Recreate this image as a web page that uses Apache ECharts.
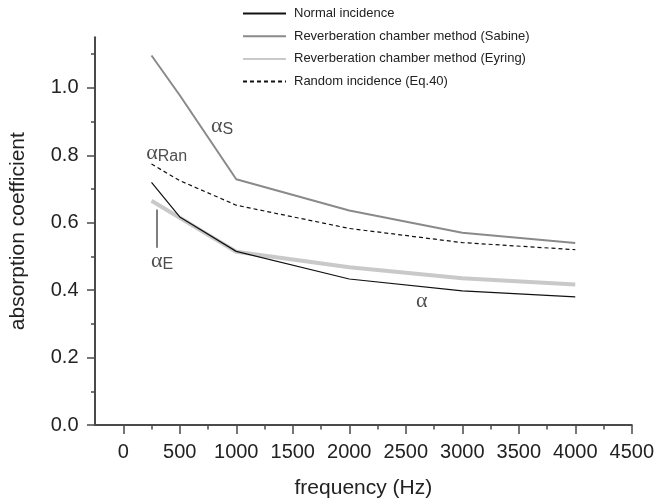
<!DOCTYPE html>
<html>
<head>
<meta charset="utf-8">
<script src="https://cdn.jsdelivr.net/npm/echarts@6/dist/echarts.min.js"></script>
<style>
  html, body { margin: 0; padding: 0; background: #fff; }
  #chart { width: 657px; height: 504px; }
</style>
</head>
<body>
<div id="chart"></div>
<script>
// Frequency bands (Hz)
const frequencies = [250, 500, 1000, 2000, 3000, 4000];

// Absorption coefficients per method
const normalIncidence = [0.72, 0.617, 0.515, 0.433, 0.398, 0.380];
const sabine          = [1.096, 0.978, 0.729, 0.636, 0.570, 0.540];
const eyring          = [0.665, 0.615, 0.514, 0.468, 0.435, 0.417];
const randomIncidence = [0.774, 0.725, 0.652, 0.583, 0.541, 0.520];

const seriesNames = [
  'Normal incidence',
  'Reverberation chamber method (Sabine)',
  'Reverberation chamber method (Eyring)',
  'Random incidence (Eq.40)'
];

// Axis tick values
const xMajorTicks = [0, 500, 1000, 1500, 2000, 2500, 3000, 3500, 4000, 4500];
const xMinorTicks = [250, 750, 1250, 1750, 2250, 2750, 3250, 3750, 4250];
const yMajorTicks = [0, 0.2, 0.4, 0.6, 0.8, 1.0];
const yMinorTicks = [0.1, 0.3, 0.5, 0.7, 0.9, 1.1];

// Curve annotations: [frequency, coefficient, symbol, subscript]
const curveTags = [
  [874, 0.886, 'α', 'S'],
  [384, 0.805, 'α', 'Ran'],
  [344, 0.486, 'α', 'E'],
  [2641, 0.366, 'α', '']
];
const eyringPointer = [[298, 0.639], [298, 0.526]];

const pairs = vals => frequencies.map((f, i) => [f, vals[i]]);

const sans = 'Liberation Sans, Arial, Helvetica, sans-serif';
const axisColor = '#4a4a4a';

const chart = echarts.init(document.getElementById('chart'), null, { renderer: 'canvas' });

const baseX = {
  type: 'value', min: -250, max: 4500, position: 'bottom',
  splitLine: { show: false }
};
const baseY = {
  type: 'value', min: 0, max: 1.15, position: 'left',
  splitLine: { show: false }
};

chart.setOption({
  animation: false,
  backgroundColor: '#fff',
  grid: { left: 93.3, right: 24.7, top: 37.3, bottom: 71.3 },
  legend: {
    data: seriesNames,
    orient: 'vertical',
    left: 242, top: 7, padding: 0,
    itemWidth: 43, itemHeight: 14, itemGap: 9.7,
    itemStyle: { opacity: 0 },
    textStyle: { fontFamily: sans, fontSize: 13, color: '#222', padding: [0, 0, 0, 3] },
    selectedMode: false
  },
  xAxis: [
    Object.assign({}, baseX, {
      name: 'frequency (Hz)', nameLocation: 'middle', nameGap: 53,
      nameTextStyle: { fontFamily: sans, fontSize: 21, color: '#222' },
      axisLine: { show: true, onZero: false, lineStyle: { color: axisColor, width: 2 } },
      axisTick: { show: true, inside: false, length: 9, customValues: xMajorTicks,
                  lineStyle: { color: axisColor, width: 1.5 } },
      axisLabel: { customValues: xMajorTicks, margin: 17, formatter: v => String(v),
                   fontFamily: sans, fontSize: 20, color: '#222' }
    }),
    Object.assign({}, baseX, {
      axisLine: { show: false, onZero: false },
      axisTick: { show: true, inside: false, length: 4.5, customValues: xMinorTicks,
                  lineStyle: { color: axisColor, width: 1.5 } },
      axisLabel: { show: false }
    })
  ],
  yAxis: [
    Object.assign({}, baseY, {
      name: 'absorption coefficient', nameLocation: 'middle', nameGap: 66,
      nameTextStyle: { fontFamily: sans, fontSize: 21, color: '#222' },
      axisLine: { show: true, onZero: false, lineStyle: { color: axisColor, width: 2 } },
      axisTick: { show: true, inside: false, length: 8, customValues: yMajorTicks,
                  lineStyle: { color: axisColor, width: 1.5 } },
      axisLabel: { customValues: yMajorTicks, margin: 16.5,
                   formatter: v => v.toFixed(1),
                   fontFamily: sans, fontSize: 20, color: '#222' }
    }),
    Object.assign({}, baseY, {
      axisLine: { show: false, onZero: false },
      axisTick: { show: true, inside: false, length: 4, customValues: yMinorTicks,
                  lineStyle: { color: axisColor, width: 1.5 } },
      axisLabel: { show: false }
    })
  ],
  series: [
    {
      name: seriesNames[0], type: 'line', data: pairs(normalIncidence),
      symbol: 'none', z: 4,
      lineStyle: { color: '#111', width: 1.2 }, itemStyle: { color: '#111' }
    },
    {
      name: seriesNames[1], type: 'line', data: pairs(sabine),
      symbol: 'none', z: 3,
      lineStyle: { color: '#8a8a8a', width: 2 }, itemStyle: { color: '#8a8a8a' }
    },
    {
      name: seriesNames[2], type: 'line', data: pairs(eyring),
      symbol: 'none', z: 2,
      lineStyle: { color: '#c9c9c9', width: 4 }, itemStyle: { color: '#c9c9c9' }
    },
    {
      name: seriesNames[3], type: 'line', data: pairs(randomIncidence),
      symbol: 'none', z: 3,
      lineStyle: { color: '#111', width: 1.2, type: [4, 3] }, itemStyle: { color: '#111' }
    },
    {
      name: 'tags', type: 'scatter', symbolSize: 0, silent: true, z: 5,
      data: curveTags.map(t => ({ value: [t[0], t[1]], sym: t[2], sub: t[3] })),
      label: {
        show: true, position: 'inside',
        formatter: p => '{a|' + p.data.sym + '}' + (p.data.sub ? '{s|' + p.data.sub + '}' : ''),
        rich: {
          a: { fontFamily: 'Liberation Serif, DejaVu Serif, serif', fontSize: 22, color: '#222',
               lineHeight: 22, verticalAlign: 'top' },
          s: { fontFamily: sans, fontSize: 16, color: '#222', lineHeight: 16, verticalAlign: 'bottom',
               padding: [10, 0, 0, 0] }
        }
      },
      markLine: {
        silent: true, symbol: 'none', animation: false,
        label: { show: false },
        lineStyle: { color: '#555', width: 1.5, type: 'solid' },
        data: [[{ coord: eyringPointer[0] }, { coord: eyringPointer[1] }]]
      }
    }
  ]
});
</script>
</body>
</html>
